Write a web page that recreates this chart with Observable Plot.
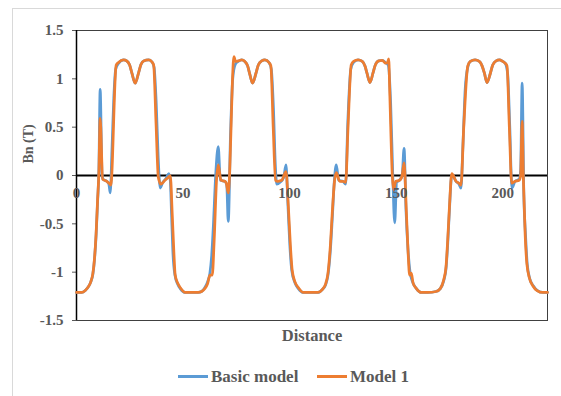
<!DOCTYPE html>
<html><head><meta charset="utf-8">
<script src="https://cdn.jsdelivr.net/npm/d3@7"></script>
<script src="https://cdn.jsdelivr.net/npm/@observablehq/plot@0.6"></script>
<style>
body{margin:0;background:#fff;}
#wrap{position:relative;width:561px;height:396px;overflow:hidden;font-family:"Liberation Serif","Times New Roman",serif;font-weight:bold;color:#595959;}
#border{position:absolute;left:12px;top:8px;width:600px;height:400px;border-left:1px solid #d9d9d9;border-top:1px solid #d9d9d9;}
#chart{position:absolute;left:0;top:0;}
.sw{position:absolute;top:375px;width:30px;height:3px;}
.lt{position:absolute;top:367px;font-size:17px;line-height:20px;white-space:nowrap;}
</style></head>
<body>
<div id="wrap">
<div id="border"></div>
<div id="chart"></div>
<div class="sw" id="sw0" style="left:178px"></div>
<div class="lt" id="lt0" style="left:211px"></div>
<div class="sw" id="sw1" style="left:317px"></div>
<div class="lt" id="lt1" style="left:350px"></div>
</div>
<script>
const seriesNames = ["Basic model", "Model 1"];
const seriesColors = ["#5B9BD5", "#ED7D31"];
const xTickValues = [0, 50, 100, 150, 200];
const yTickValues = [-1.5, -1, -0.5, 0, 0.5, 1, 1.5];
const yTickLabels = ["-1.5", "-1", "-0.5", "0", "0.5", "1", "1.5"];
const xTitle = "Distance";
const yTitle = "Bn (T)";

const basicX = [0,2.5,4.1,5.6,6.7,7.7,8.4,9.2,9.9,10.5,11.1,12.0,12.5,14.2,15.2,15.8,16.7,17.5,18.4,19.7,22.1,23.6,24.9,26.0,27.5,29.1,30.2,31.5,33.8,35.4,36.4,37.4,38.3,39.3,40.3,42.0,43.3,44.0,44.6,45.3,46.2,47.4,48.7,51.0,
54.0,57.1,58.7,60.2,61.5,62.6,63.4,64.2,65.3,66.5,67.5,69.6,70.5,71.2,72.3,73.3,74.5,75.9,77.5,79.0,80.3,81.4,82.6,84.2,85.3,86.9,88.4,90.3,91.4,92.4,93.3,94.0,95.5,97.2,98.3,99.2,100.1,101.0,102.5,104.1,106.4,
109.4,113.3,115.3,116.9,118.0,119.1,120.0,121.0,121.9,123.0,125.0,126.3,127.3,128.7,130.0,132.1,134.1,135.4,136.3,137.7,139.1,140.2,141.8,143.5,145.1,146.3,147.4,148.4,149.3,150.2,151.5,152.8,153.7,154.6,155.5,156.5,157.5,159.5,161.8,
164.8,168.7,170.7,172.3,173.4,174.2,175.0,176.1,178.1,179.5,180.4,181.3,182.4,183.6,184.8,187.0,189.0,190.3,191.4,192.6,194.2,195.3,196.9,198.4,200.0,201.2,202.3,203.3,204.3,205.8,207.7,208.4,209.1,209.9,210.7,211.5,212.7,214.3,216.3,218.8,221];
const basicY = [-1.21,-1.21,-1.19,-1.15,-1.10,-1.02,-0.88,-0.62,-0.27,0.05,0.89,0.0,-0.04,-0.06,-0.09,-0.18,0.30,0.80,1.10,1.16,1.195,1.185,1.145,1.06,0.955,1.06,1.145,1.185,1.195,1.175,1.12,0.75,0.20,-0.13,-0.08,-0.03,0.02,-0.05,-0.40,-0.82,-1.03,-1.12,-1.17,-1.21,
-1.21,-1.21,-1.20,-1.16,-1.10,-1.01,-0.84,-0.53,0.0,0.30,-0.05,-0.06,-0.10,-0.475,0.45,1.0,1.15,1.18,1.196,1.18,1.134,1.04,0.955,1.058,1.144,1.186,1.196,1.17,1.10,0.70,0.10,-0.09,-0.07,-0.02,0.11,-0.30,-0.72,-0.98,-1.11,-1.17,-1.21,
-1.21,-1.21,-1.18,-1.13,-1.03,-0.78,-0.45,-0.05,0.11,-0.05,-0.06,-0.09,0.55,1.10,1.17,1.196,1.18,1.13,1.058,0.962,1.058,1.144,1.186,1.19,1.165,1.14,0.75,0.0,-0.49,-0.07,-0.05,0.0,0.28,-0.35,-0.75,-1.0,-1.09,-1.17,-1.21,
-1.21,-1.20,-1.17,-1.09,-0.96,-0.70,-0.35,0.01,-0.06,-0.09,-0.13,0.30,0.90,1.12,1.18,1.196,1.18,1.134,1.058,0.962,1.058,1.144,1.186,1.196,1.18,1.16,1.05,0.50,-0.13,-0.06,-0.04,0.05,0.955,-0.20,-0.62,-0.92,-1.07,-1.14,-1.19,-1.21,-1.21];

const model1X = [0,2.5,4.1,5.6,6.7,7.7,8.4,9.2,9.9,10.5,11.1,12.3,14.2,15.3,16.1,18.6,19.7,22.1,23.6,24.9,26.0,27.5,29.1,30.2,31.5,33.8,35.4,36.2,37.3,38.4,39.6,41.5,43.0,44.0,44.9,45.7,46.3,47.4,48.7,51.0,
54.0,57.1,58.7,60.2,61.5,62.6,63.7,64.6,65.7,66.5,67.8,69.6,70.3,71.2,73.9,74.6,75.9,77.5,79.0,80.3,81.4,82.6,84.2,85.3,86.9,88.4,90.3,91.2,92.3,93.4,94.5,96.3,98.3,99.4,100.3,101.2,102.5,104.1,106.4,
109.4,113.3,115.3,116.9,118.0,119.1,120.0,121.1,121.9,123.5,125.0,126.3,127.4,128.9,130.0,132.1,134.1,135.4,136.3,137.7,139.1,140.2,141.8,143.5,145.1,145.9,146.5,147.0,148.2,148.8,149.8,151.5,152.8,153.7,154.8,155.6,156.3,157.1,157.9,159.5,161.8,
164.8,168.7,170.7,172.3,173.4,174.2,175.0,176.1,178.1,179.5,180.4,181.7,183.6,184.8,187.0,189.0,190.3,191.4,192.6,194.2,195.3,196.9,198.4,200.0,201.1,202.0,203.1,204.2,205.8,207.7,208.4,209.1,209.7,210.5,211.3,212.5,214.1,216.1,218.8,221];
const model1Y = [-1.21,-1.21,-1.19,-1.15,-1.10,-1.01,-0.87,-0.60,-0.25,0.03,0.59,-0.04,-0.06,-0.08,-0.10,1.14,1.17,1.195,1.185,1.145,1.06,0.955,1.06,1.145,1.185,1.195,1.175,1.145,0.55,-0.02,-0.09,-0.05,-0.02,0.0,-0.39,-0.80,-1.03,-1.11,-1.16,-1.21,
-1.21,-1.21,-1.20,-1.17,-1.12,-1.03,-1.03,-0.67,-0.05,0.11,-0.05,-0.06,-0.08,-0.18,1.23,1.18,1.186,1.196,1.18,1.134,1.04,0.955,1.058,1.144,1.186,1.196,1.169,1.134,0.5,-0.05,-0.06,-0.05,0.04,-0.32,-0.70,-0.98,-1.10,-1.16,-1.21,
-1.21,-1.21,-1.18,-1.12,-1.01,-0.73,-0.39,-0.05,0.03,-0.06,-0.06,-0.07,0.5,1.144,1.18,1.196,1.18,1.13,1.058,0.962,1.058,1.144,1.186,1.19,1.162,1.169,1.206,0.85,-0.01,-0.15,-0.06,-0.05,0.0,0.13,-0.39,-0.80,-1.03,-1.01,-1.11,-1.17,-1.21,
-1.21,-1.20,-1.17,-1.08,-0.94,-0.66,-0.32,0.02,-0.06,-0.08,-0.10,0.5,1.134,1.18,1.196,1.18,1.134,1.058,0.962,1.058,1.144,1.186,1.196,1.18,1.162,1.134,0.5,-0.08,-0.06,-0.05,0.0,0.56,-0.05,-0.60,-0.91,-1.06,-1.14,-1.19,-1.21,-1.21];

const basic = basicX.map((x, i) => ({x, y: basicY[i]}));
const model1 = model1X.map((x, i) => ({x, y: model1Y[i]}));

const chart = Plot.plot({
  width: 561, height: 355,
  marginLeft: 76, marginRight: 14, marginTop: 30, marginBottom: 35,
  style: {fontFamily: '"Liberation Serif","Times New Roman",serif', fontWeight: "bold", color: "#595959", fontSize: "15px", background: "transparent", overflow: "visible"},
  x: {domain: [0, 221], axis: null},
  y: {domain: [-1.5, 1.5], ticks: yTickValues, tickFormat: d => yTickLabels[yTickValues.indexOf(d)], tickSize: 4, tickPadding: 9, label: null},
  marks: [
    Plot.frame({stroke: "#404040", strokeWidth: 1}),
    Plot.ruleX([0], {stroke: "black", strokeWidth: 1.5}),
    Plot.ruleY([0], {stroke: "black", strokeWidth: 2}),
    Plot.line(basic, {x: "x", y: "y", stroke: seriesColors[0], strokeWidth: 2.75, curve: "monotone-x"}),
    Plot.line(model1, {x: "x", y: "y", stroke: seriesColors[1], strokeWidth: 2.75, curve: "monotone-x"}),
    Plot.text(xTickValues, {x: d => d, y: 0, dy: 18, text: d => String(d), fontSize: 15, fill: "#595959"}),
    Plot.text([xTitle], {frameAnchor: "bottom", dy: 20, text: d => d, fontSize: 16.5, fill: "#595959"}),
    Plot.text([yTitle], {frameAnchor: "left", dx: -48, dy: -12, rotate: -90, text: d => d, fontSize: 14, fill: "#595959"})
  ]
});
document.getElementById("chart").appendChild(chart);
seriesNames.forEach((n, i) => {
  document.getElementById("sw" + i).style.background = seriesColors[i];
  document.getElementById("lt" + i).textContent = n;
});
</script>
</body></html>
